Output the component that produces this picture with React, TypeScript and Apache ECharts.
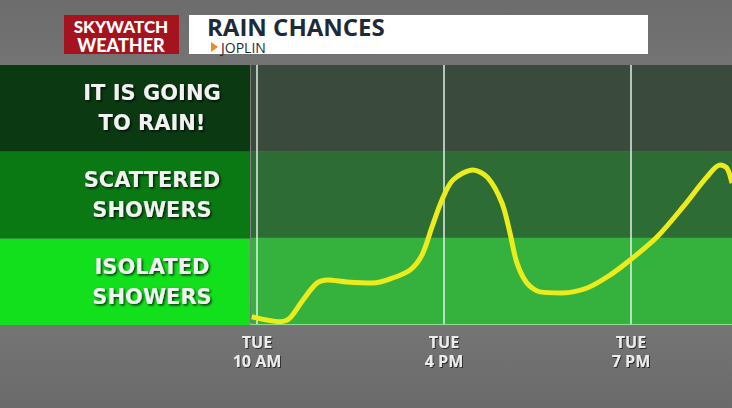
import React, { useEffect, useRef } from "react";
import * as echarts from "echarts";

// ---- data ----
const X_LABEL_POS = [0, 1, 2];
const X_LABELS = ["TUE\n10 AM", "TUE\n4 PM", "TUE\n7 PM"];
const BAND_EDGES = [0, 33.3, 66.7, 100];
const BAND_LABELS = ["ISOLATED\nSHOWERS", "SCATTERED\nSHOWERS", "IT IS GOING\nTO RAIN!"];
const PANEL_COLORS = ["#12e01c", "#0a7813", "#0b3a12"];
const PLOT_COLORS = ["#35b23e", "#2e6c35", "#3a4b3d"];
const SLOT_X = [
  -0.028, 0.123, 0.176, 0.246, 0.321, 0.38, 0.481, 0.62, 0.727, 0.818, 0.882,
  0.936, 0.989, 1.048, 1.155, 1.235, 1.31, 1.353, 1.39, 1.444, 1.513, 1.631,
  1.765, 1.888, 1.995, 2.139, 2.278, 2.406, 2.476, 2.513, 2.54,
];
const CHANCE = [
  2.8, 0.9, 2.3, 9.3, 15.8, 17.0, 16.2, 15.8, 17.8, 20.8, 26.6, 37.5, 47.9,
  55.6, 59.5, 56.4, 46.7, 35.1, 23.6, 15.8, 12.4, 12.0, 13.9, 18.9, 24.7, 33.6,
  45.2, 56.8, 61.4, 60.2, 54.4,
];
const TITLE = "RAIN CHANCES";
const SUBTITLE = "JOPLIN";

export default function App() {
  const ref = useRef<HTMLDivElement>(null);
  useEffect(() => {
    if (!ref.current) return;
    const chart = echarts.init(ref.current, null, { renderer: "svg" });
    const shadow = {
      textShadowColor: "rgba(0,0,0,0.75)",
      textShadowBlur: 2,
      textShadowOffsetX: 1.5,
      textShadowOffsetY: 1.5,
    };
    const panelAreas = BAND_LABELS.map((lab, i) => [
      {
        xAxis: 0,
        yAxis: BAND_EDGES[i],
        itemStyle: { color: PANEL_COLORS[i], opacity: 1 },
        label: {
          show: true,
          position: "inside",
          offset: [27, 0],
          formatter: lab,
          color: "#f2f2f2",
          fontFamily: "DejaVu Sans",
          fontWeight: "bold",
          fontSize: 21,
          lineHeight: 30,
          align: "center",
          ...shadow,
        },
      },
      { xAxis: 1, yAxis: BAND_EDGES[i + 1] },
    ]);
    const plotAreas = PLOT_COLORS.map((c, i) => [
      { yAxis: BAND_EDGES[i], itemStyle: { color: c, opacity: 1 } },
      { yAxis: BAND_EDGES[i + 1] },
    ]);
    const option: any = {
      animation: false,
      backgroundColor: {
        type: "linear",
        x: 0,
        y: 0,
        x2: 0,
        y2: 1,
        colorStops: [
          { offset: 0, color: "#6c6c6c" },
          { offset: 0.5, color: "#858585" },
          { offset: 1, color: "#6a6a6a" },
        ],
      },
      grid: [
        { left: 0, width: 250, top: 65, bottom: 83 },
        { left: 251, right: 0, top: 65, bottom: 84 },
      ],
      xAxis: [
        { gridIndex: 0, type: "value", min: 0, max: 1, show: false },
        {
          gridIndex: 1,
          type: "value",
          min: -0.032,
          max: 2.54,
          axisLine: { show: true, lineStyle: { color: "#8fdc8f", width: 2 } },
          axisTick: { show: false, customValues: X_LABEL_POS },
          splitLine: { show: false },
          axisLabel: {
            customValues: X_LABEL_POS,
            formatter: (v: number) => {
              const i = X_LABEL_POS.indexOf(Math.round(v * 1000) / 1000);
              return i >= 0 ? X_LABELS[i] : "";
            },
            color: "#ececec",
            fontFamily: "Open Sans",
            fontWeight: "bold",
            fontSize: 16,
            lineHeight: 19.5,
            margin: 8,
            textShadowColor: "rgba(0,0,0,0.6)",
            textShadowBlur: 1,
            textShadowOffsetX: 1,
            textShadowOffsetY: 1,
          },
        },
      ],
      yAxis: [
        { gridIndex: 0, type: "value", min: 0, max: 100, show: false },
        {
          gridIndex: 1,
          type: "value",
          min: 0,
          max: 100,
          axisLine: { show: true, lineStyle: { color: "rgba(230,255,230,0.45)", width: 1 } },
          axisTick: { show: false },
          axisLabel: { show: false },
          splitLine: { show: false },
        },
      ],
      series: [
        {
          type: "line",
          xAxisIndex: 0,
          yAxisIndex: 0,
          data: [],
          markArea: { silent: true, data: panelAreas },
        },
        {
          type: "line",
          xAxisIndex: 1,
          yAxisIndex: 1,
          data: [],
          z: 1,
          markArea: { silent: true, data: plotAreas },
          markLine: {
            silent: true,
            symbol: "none",
            label: { show: false },
            lineStyle: { color: "#eef4ee", width: 1.5, type: "solid", opacity: 0.95 },
            data: X_LABEL_POS.map((x) => ({ xAxis: x })),
          },
        },
        {
          type: "line",
          xAxisIndex: 1,
          yAxisIndex: 1,
          z: 5,
          smooth: 0.3,
          showSymbol: false,
          lineStyle: { color: "#ecec1c", width: 5 },
          data: SLOT_X.map((x, i) => [x, CHANCE[i]]),
        },
      ],
      graphic: [
        {
          type: "rect",
          shape: { x: 64, y: 15, width: 115, height: 39 },
          style: { fill: "#a5141e" },
        },
        {
          type: "text",
          x: 121,
          y: 26.5,
          style: {
            text: "SKYWATCH",
            fill: "#ffffff",
            font: "900 17px Lato",
            align: "center",
            verticalAlign: "middle",
            shadowColor: "rgba(0,0,0,0.6)",
            shadowBlur: 1,
            shadowOffsetX: 1,
            shadowOffsetY: 1,
          },
        },
        {
          type: "text",
          x: 121,
          y: 45,
          style: {
            text: "WEATHER",
            fill: "#ffffff",
            font: "900 18px Lato",
            align: "center",
            verticalAlign: "middle",
            shadowColor: "rgba(0,0,0,0.6)",
            shadowBlur: 1,
            shadowOffsetX: 1,
            shadowOffsetY: 1,
          },
        },
        {
          type: "rect",
          shape: { x: 189, y: 15, width: 459, height: 39 },
          style: { fill: "#ffffff" },
        },
        {
          type: "text",
          x: 207,
          y: 26,
          style: {
            text: TITLE,
            fill: "#1f2a38",
            font: "bold 24px 'Open Sans'",
            align: "left",
            verticalAlign: "middle",
          },
        },
        {
          type: "polygon",
          shape: { points: [[211, 42], [211, 52], [218, 47]] },
          style: { fill: "#f08a26" },
        },
        {
          type: "text",
          x: 221,
          y: 47.5,
          style: {
            text: SUBTITLE,
            fill: "#1f2a38",
            font: "14px 'Open Sans'",
            align: "left",
            verticalAlign: "middle",
          },
        },
      ],
    };
    chart.setOption(option);
    return () => chart.dispose();
  }, []);
  return (
    <div
      ref={ref}
      style={{ position: "fixed", left: 0, top: 0, width: 732, height: 408 }}
    />
  );
}
